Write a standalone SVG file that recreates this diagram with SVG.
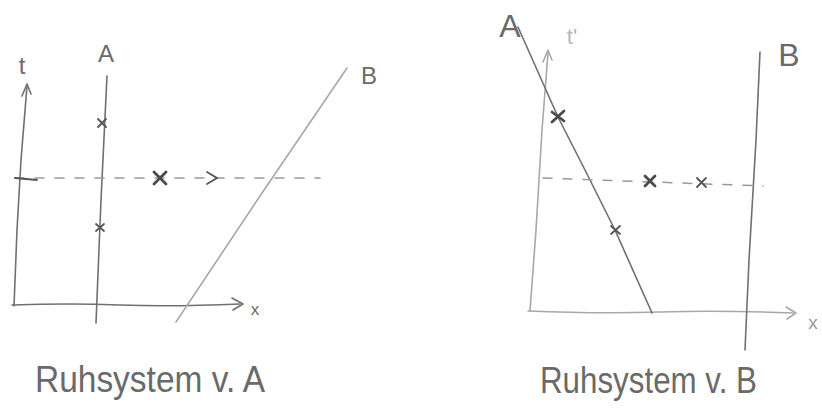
<svg xmlns="http://www.w3.org/2000/svg" width="822" height="414" viewBox="0 0 822 414">
<style>
.ln{fill:none;stroke:#707070;stroke-width:1.6;stroke-linecap:round;stroke-linejoin:round}
.lt{fill:none;stroke:#a8a8a8;stroke-width:1.6;stroke-linecap:round;stroke-linejoin:round}
.dash{fill:none;stroke:#9a9a9a;stroke-width:1.5;stroke-dasharray:9 11;stroke-linecap:round}
.mk{fill:none;stroke:#555;stroke-width:1.8;stroke-linecap:round}
.mkb{fill:none;stroke:#4a4a4a;stroke-width:2.8;stroke-linecap:round}
.lab{font-family:"Liberation Sans",Arial,sans-serif;fill:#6a6a6a}
</style>
<rect width="822" height="414" fill="#ffffff"/>
<g id="panelA">
  <g id="axesA">
    <path class="ln" d="M14,306 L17,230 L21,160 L27,86"/>
    <path class="ln" d="M22,96 L27,84 L31,94"/>
    <path class="ln" d="M12,305 Q70,303 120,305 T240,304"/>
    <path class="ln" d="M232,298 L243,304 L233,310"/>
    <text class="lab" x="22" y="74" font-size="24" text-anchor="middle">t</text>
    <text class="lab" x="255" y="315" font-size="17" text-anchor="middle">x</text>
  </g>
  <g id="worldlineA1">
    <path class="ln" d="M107,76 L101,200 L96,323"/>
    <text class="lab" x="106" y="62" font-size="24" text-anchor="middle">A</text>
    <path class="mk" d="M98,119 L106,127 M106,119 L98,127"/>
    <path class="mk" d="M96,224 L104,231 M104,224 L96,231"/>
  </g>
  <g id="simultaneityA">
    <path class="dash" d="M15,178 L320,178"/>
    <path class="mk" d="M15,178 L37,180"/>
    <path class="mkb" d="M154,172 L166,184 M166,172 L154,184"/>
    <path class="mk" d="M207,172 L217,178 L207,184"/>
  </g>
  <g id="worldlineB1">
    <path class="lt" d="M176,322 L260,196 L347,68"/>
    <text class="lab" x="369" y="84" font-size="24" text-anchor="middle">B</text>
  </g>
</g>
<g id="panelB">
  <g id="axesB">
    <path class="lt" d="M530,311 L536,230 L542,130 L548,53"/>
    <path class="lt" d="M543,62 L548,50 L552,60"/>
    <path class="lt" d="M528,311 Q600,314 660,312 T793,313"/>
    <path class="lt" d="M786,307 L796,313 L787,319"/>
    <text class="lab" x="572" y="44" font-size="22" text-anchor="middle" fill="#b8b8b8" style="fill:#b8b8b8">t'</text>
    <text class="lab" x="813" y="329" font-size="19" text-anchor="middle" style="fill:#9a9a9a">x</text>
  </g>
  <g id="worldlineA2">
    <path class="ln" d="M652,313 L615,230 L585,170 L558,117 L518,27"/>
    <text class="lab" x="510" y="37" font-size="32" text-anchor="middle">A</text>
    <path class="mkb" d="M552,112 L564,121 M564,111 L552,122"/>
    <path class="mk" d="M611,226 L620,234 M620,226 L611,234"/>
  </g>
  <g id="simultaneityB">
    <path class="dash" d="M543,178 L763,186"/>
    <path class="mkb" d="M645,176 L655,186 M655,176 L645,186"/>
    <path class="mk" d="M697,178 L706,187 M706,178 L697,187"/>
  </g>
  <g id="worldlineB2">
    <path class="ln" d="M760,52 L756,140 L749,260 L745,350"/>
    <text class="lab" x="789" y="66" font-size="32" text-anchor="middle">B</text>
  </g>
</g>
<g id="captions">
  <text class="lab" x="35" y="392" font-size="36" textLength="230" lengthAdjust="spacingAndGlyphs">Ruhsystem v. A</text>
  <text class="lab" x="540" y="393" font-size="36" textLength="217" lengthAdjust="spacingAndGlyphs">Ruhsystem v. B</text>
</g>
</svg>
